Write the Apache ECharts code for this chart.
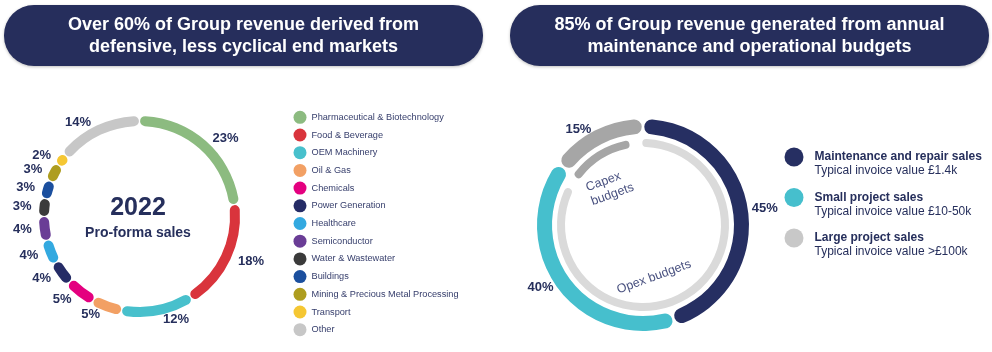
<!DOCTYPE html>
<html>
<head>
<meta charset="utf-8">
<title>Group revenue mix</title>
<script src="https://cdn.jsdelivr.net/npm/echarts@6.0.0/dist/echarts.min.js"></script>
<style>
html, body { margin: 0; padding: 0; background: #fff; }
#main { width: 992px; height: 352px; }
</style>
</head>
<body>
<div id="main"></div>
<script>
//左图：终端市场
var market_names = [
	"Pharmaceutical & Biotechnology", "Food & Beverage", "OEM Machinery", "Oil & Gas",
	"Chemicals", "Power Generation", "Healthcare", "Semiconductor", "Water & Wastewater",
	"Buildings", "Mining & Precious Metal Processing", "Transport", "Other"
];
var market_values = [23, 18, 12, 5, 5, 4, 4, 4, 3, 3, 3, 2, 14];
var market_colors = [
	"#8cbb80", "#d9343c", "#48c0cc", "#f2a064", "#e4007f", "#252c66", "#33a9e0",
	"#6a3d96", "#3b3b3b", "#1b4f9e", "#ae9d1f", "#f5c733", "#c7c7c7"
];
//右图外环：销售类型
var sales_names = ["Maintenance and repair sales", "Small project sales", "Large project sales"];
var sales_values = [45, 40, 15];
var sales_notes = ["Typical invoice value £1.4k", "Typical invoice value £10-50k", "Typical invoice value >£100k"];
var sales_colors = ["#262f62", "#46bfcd", "#a6a6a6"];
var sales_legend_colors = ["#262f62", "#46bfcd", "#c8c8c8"];
//右图内环：预算
var budget_names = ["Opex budgets", "Capex budgets"];
var budget_values = [85, 15];
var budget_colors = ["#dadada", "#a6a6a6"];
//标题
var headline_left = "Over 60% of Group revenue derived from\ndefensive, less cyclical end markets";
var headline_right = "85% of Group revenue generated from annual\nmaintenance and operational budgets";
var center_year = "2022";
var center_caption = "Pro-forma sales";

var font_family = '"Liberation Sans", Arial, sans-serif';
var navy = "#262f5c";

var market_data = [];
for (var i = 0; i < market_names.length; i++) {
	market_data.push({ name: market_names[i], value: market_values[i], itemStyle: { color: market_colors[i] } });
}
var sales_data = [];
var sales_legend = [];
for (var i = 0; i < sales_names.length; i++) {
	sales_data.push({ name: sales_names[i], value: sales_values[i], itemStyle: { color: sales_colors[i] } });
	sales_legend.push({ name: sales_names[i], itemStyle: { color: sales_legend_colors[i] } });
}
var budget_data = [];
for (var i = 0; i < budget_names.length; i++) {
	budget_data.push({ name: budget_names[i], value: budget_values[i], itemStyle: { color: budget_colors[i] } });
}

var chart = echarts.init(document.getElementById("main"));
var option = {
	animation: false,
	textStyle: { fontFamily: font_family },
	graphic: [
		{ type: "rect", shape: { x: 4, y: 5, width: 479, height: 61, r: 30 },
			style: { fill: "#262e5c", shadowBlur: 3, shadowOffsetY: 1, shadowColor: "rgba(0,0,0,0.25)" } },
		{ type: "text", x: 243.5, y: 36,
			style: { text: headline_left, fill: "#fff", fontSize: 18, fontWeight: "bold", fontFamily: font_family,
				lineHeight: 22, textAlign: "center", textVerticalAlign: "middle" } },
		{ type: "rect", shape: { x: 510, y: 5, width: 479, height: 61, r: 30 },
			style: { fill: "#262e5c", shadowBlur: 3, shadowOffsetY: 1, shadowColor: "rgba(0,0,0,0.25)" } },
		{ type: "text", x: 749.5, y: 36,
			style: { text: headline_right, fill: "#fff", fontSize: 18, fontWeight: "bold", fontFamily: font_family,
				lineHeight: 22, textAlign: "center", textVerticalAlign: "middle" } },
		// 左环中心文字
		{ type: "text", x: 138, y: 208,
			style: { text: center_year, fill: navy, fontSize: 25, fontWeight: "bold", fontFamily: font_family,
				textAlign: "center", textVerticalAlign: "middle" } },
		{ type: "text", x: 138, y: 233,
			style: { text: center_caption, fill: navy, fontSize: 14, fontWeight: "bold", fontFamily: font_family,
				textAlign: "center", textVerticalAlign: "middle" } },
		// 内环说明文字
		{ type: "text", x: 589, y: 195, rotation: 20 * Math.PI / 180,
			style: { text: "Capex\nbudgets", fill: "#4a5280", fontSize: 12.5, fontFamily: font_family,
				lineHeight: 15, textAlign: "left", textVerticalAlign: "middle" } },
		{ type: "text", x: 654, y: 277, rotation: 20 * Math.PI / 180,
			style: { text: budget_names[0], fill: "#4a5280", fontSize: 12.5, fontFamily: font_family,
				textAlign: "center", textVerticalAlign: "middle" } }
	],
	legend: [
		{
			orient: "vertical", left: 288.5, top: 105.8, icon: "circle",
			itemWidth: 13, itemHeight: 13, itemGap: 4.7, selectedMode: false,
			data: market_names,
			textStyle: { color: "#353d6b", fontSize: 9.2, fontFamily: font_family }
		},
		{
			orient: "vertical", left: 779.5, top: 132, icon: "circle",
			itemWidth: 19, itemHeight: 19, itemGap: 0.5, selectedMode: false,
			data: sales_legend,
			formatter: function (name) {
				var idx = sales_names.indexOf(name);
				return "{e| }\n{b|" + name + "}\n{n|" + sales_notes[idx] + "}";
			},
			textStyle: {
				rich: {
					e: { fontSize: 12, lineHeight: 14 },
					b: { fontSize: 12, lineHeight: 14, fontWeight: "bold", color: navy, padding: [0, 0, 0, 6], fontFamily: font_family },
					n: { fontSize: 12, lineHeight: 14, color: navy, padding: [0, 0, 0, 6], fontFamily: font_family }
				}
			}
		}
	],
	series: [
		{
			name: "End markets", type: "pie",
			center: [139.5, 216.5], radius: [90.5, 100.5],
			startAngle: 90, padAngle: 0.7, avoidLabelOverlap: false,
			itemStyle: { borderRadius: 5 },
			label: { show: true, position: "outside", formatter: "{c}%", color: navy,
				fontSize: 13, fontWeight: "bold", distanceToLabelLine: 4 },
			labelLine: { show: false, length: 4, length2: 0 },
			emphasis: { disabled: true },
			data: market_data
		},
		{
			name: "Sales type", type: "pie",
			center: [643, 225], radius: [91, 106],
			startAngle: 90, padAngle: 1.5, avoidLabelOverlap: false,
			itemStyle: { borderRadius: 7.5 },
			label: { show: true, position: "outside", formatter: "{c}%", color: navy,
				fontSize: 13, fontWeight: "bold", distanceToLabelLine: 3 },
			labelLine: { show: false, length: 1, length2: 0 },
			emphasis: { disabled: true },
			data: sales_data
		},
		{
			name: "Budgets", type: "pie",
			center: [643, 225], radius: [78, 86],
			startAngle: 95, padAngle: 9, silent: true,
			itemStyle: { borderRadius: 4 },
			label: { show: false },
			labelLine: { show: false },
			data: budget_data
		}
	]
};
chart.setOption(option);
</script>
</body>
</html>
